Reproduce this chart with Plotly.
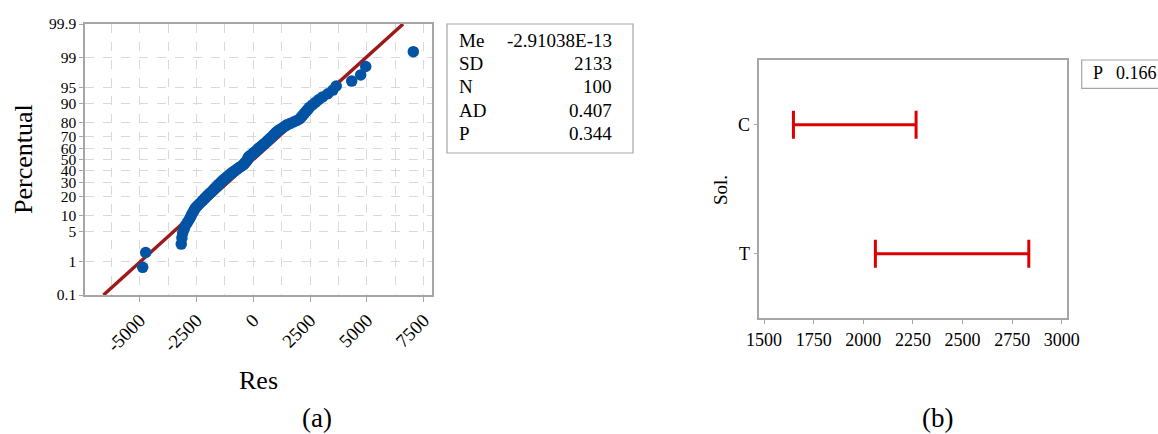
import math
import plotly.graph_objects as go

W, H = 1158, 434
FONT = "Liberation Serif"

# ---------------- data ----------------
# (a) residuals, sorted
residuals = [
    -4866, -4734, -3170, -3140, -3105, -3040, -2975, -2890, -2810, -2750,
    -2700, -2640, -2590, -2530, -2450, -2370, -2290, -2215, -2145, -2080,
    -2010, -1940, -1875, -1805, -1745, -1685, -1630, -1570, -1515, -1460,
    -1400, -1345, -1285, -1220, -1160, -1095, -1035, -970, -910, -840,
    -770, -700, -630, -560, -475, -425, -385, -345, -300, -260,
    -235, -225, -200, -140, -75, -10, 50, 110, 170, 200,
    265, 330, 390, 450, 510, 570, 625, 680, 740, 795,
    850, 905, 960, 1015, 1090, 1180, 1280, 1375, 1460, 1610,
    1770, 1920, 2050, 2110, 2180, 2250, 2320, 2400, 2470, 2600,
    2730, 2870, 3050, 3280, 3500, 3650, 4330, 4725, 4945, 7040,
]
fit_mean = -2.91038e-13
fit_sd = 2133
stat_labels = ["Me", "SD", "N", "AD", "P"]
stat_values = ["-2.91038E-13", "2133", "100", "0.407", "0.344"]
pct_ticks = [0.1, 1, 5, 10, 20, 30, 40, 50, 60, 70, 80, 90, 95, 99, 99.9]
pct_text = ["0.1", "1", "5", "10", "20", "30", "40", "50", "60", "70", "80", "90", "95", "99", "99.9"]
res_ticks = [-5000, -2500, 0, 2500, 5000, 7500]
res_text = ["-5000", "-2500", "0", "2500", "5000", "7500"]
res_minor = [-6250, -3750, -1250, 1250, 3750, 6250]

# (b) interval plot
groups = ["C", "T"]
ci_low = [1648, 2061]
ci_high = [2266, 2834]
p_value = "0.166"
b_ticks = [1500, 1750, 2000, 2250, 2500, 2750, 3000]


def norm_ppf(p):
    lo, hi = -10.0, 10.0
    for _ in range(100):
        mid = (lo + hi) / 2
        if 0.5 * (1 + math.erf(mid / math.sqrt(2))) < p:
            lo = mid
        else:
            hi = mid
    return (lo + hi) / 2


n = len(residuals)
pct = [(i + 1 - 0.3) / (n + 0.4) for i in range(n)]
zs = [norm_ppf(p) for p in pct]
z_ticks = [norm_ppf(p / 100) for p in pct_ticks]
zmin, zmax = z_ticks[0], z_ticks[-1]

fig = go.Figure()

# fitted line
fig.add_trace(go.Scatter(
    x=[fit_mean + fit_sd * zmin, fit_mean + fit_sd * zmax], y=[zmin, zmax],
    mode="lines", line=dict(color="#9e1a1a", width=3.4),
    xaxis="x", yaxis="y", showlegend=False, hoverinfo="skip"))
# points
fig.add_trace(go.Scatter(
    x=residuals, y=zs, mode="markers",
    marker=dict(color="#0353a4", size=11.5, line=dict(width=0)),
    xaxis="x", yaxis="y", showlegend=False))

# interval plot
centers = [(a + b) / 2 for a, b in zip(ci_low, ci_high)]
halfw = [(b - a) / 2 for a, b in zip(ci_low, ci_high)]
fig.add_trace(go.Scatter(
    x=centers, y=groups, mode="markers",
    marker=dict(size=1, color="rgba(0,0,0,0)"),
    error_x=dict(type="data", array=halfw, symmetric=True,
                 color="#dd0000", thickness=3, width=14),
    xaxis="x2", yaxis="y2", showlegend=False))

grid = "#d9d9d9"
border = "#a6a6a6"

def px_x(v):
    return v / W

def px_y(v):
    return 1 - v / H

fig.update_layout(
    width=W, height=H,
    margin=dict(l=0, r=0, t=0, b=0, autoexpand=False),
    paper_bgcolor="white", plot_bgcolor="white",
    font=dict(family=FONT, color="black"),
    xaxis=dict(
        domain=[px_x(85), px_x(432)], range=[-7404, 7862],
        tickmode="array", tickvals=res_ticks, ticktext=res_text,
        tickangle=-45, tickfont=dict(size=19, family=FONT),
        ticks="outside", ticklen=5, tickcolor=border,
        showgrid=True, gridcolor=grid, griddash="dash", gridwidth=1,
        minor=dict(tickmode="array", tickvals=res_minor, showgrid=True,
                   gridcolor=grid, griddash="dash", gridwidth=1, ticks=""),
        showline=True, linecolor=border, linewidth=1.5, mirror=True,
        zeroline=False, anchor="y", automargin=False,
    ),
    yaxis=dict(
        domain=[px_y(295), px_y(24)], range=[zmin, zmax],
        tickmode="array", tickvals=z_ticks, ticktext=pct_text,
        tickfont=dict(size=15.5, family=FONT),
        ticks="outside", ticklen=4, tickcolor=border,
        showgrid=True, gridcolor=grid, griddash="dash", gridwidth=1,
        showline=True, linecolor=border, linewidth=1.5, mirror=True,
        zeroline=False, anchor="x", automargin=False,
    ),
    xaxis2=dict(
        domain=[px_x(759.3), px_x(1066.7)], range=[1476, 3025],
        tickmode="array", tickvals=b_ticks, ticktext=[str(t) for t in b_ticks],
        tickfont=dict(size=18, family=FONT),
        ticks="outside", ticklen=4, tickcolor=border,
        showgrid=False, zeroline=False,
        showline=True, linecolor=border, linewidth=1.5, mirror=True,
        anchor="y2", automargin=False,
    ),
    yaxis2=dict(
        domain=[px_y(318.3), px_y(60.3)], type="category",
        categoryorder="array", categoryarray=["T", "C"], range=[-0.5, 1.5],
        tickfont=dict(size=18, family=FONT),
        ticks="outside", ticklen=4, tickcolor=border,
        showgrid=False, zeroline=False,
        showline=True, linecolor=border, linewidth=1.5, mirror=True,
        anchor="x2", automargin=False,
    ),
)

ann = []
def text(x, y, s, size, anchor="center", angle=0):
    ann.append(dict(x=px_x(x), y=px_y(y), xref="paper", yref="paper", text=s,
                    showarrow=False, xanchor=anchor, yanchor="middle",
                    textangle=angle, borderpad=0,
                    font=dict(size=size, family=FONT, color="black")))

text(23, 159, "Percentual", 26, angle=-90)
text(258, 380, "Res", 26)
text(317, 418, "(a)", 27)
text(937, 418, "(b)", 27)
text(720, 190, "Sol.", 19, angle=-90)

rows_y = [40, 63.3, 86.7, 110, 133.3]
for lab, val, yy in zip(stat_labels, stat_values, rows_y):
    text(458, yy, lab, 19, anchor="left")
    text(613, yy, val, 19, anchor="right")

text(1092, 73.5, "P", 18, anchor="left")
text(1115, 73.5, p_value, 18, anchor="left")

fig.update_layout(annotations=ann)

fig.add_shape(type="rect", xref="paper", yref="paper",
              x0=px_x(447), x1=px_x(633), y0=px_y(153), y1=px_y(24),
              line=dict(color=border, width=1.2))
fig.add_shape(type="rect", xref="paper", yref="paper",
              x0=px_x(1081.7), x1=px_x(1175), y0=px_y(88.3), y1=px_y(60),
              line=dict(color=border, width=1.2))

fig.write_html("out.html",
               config={"displayModeBar": False},
               post_script="document.body.style.margin='0px'; document.body.style.overflow='hidden';")
